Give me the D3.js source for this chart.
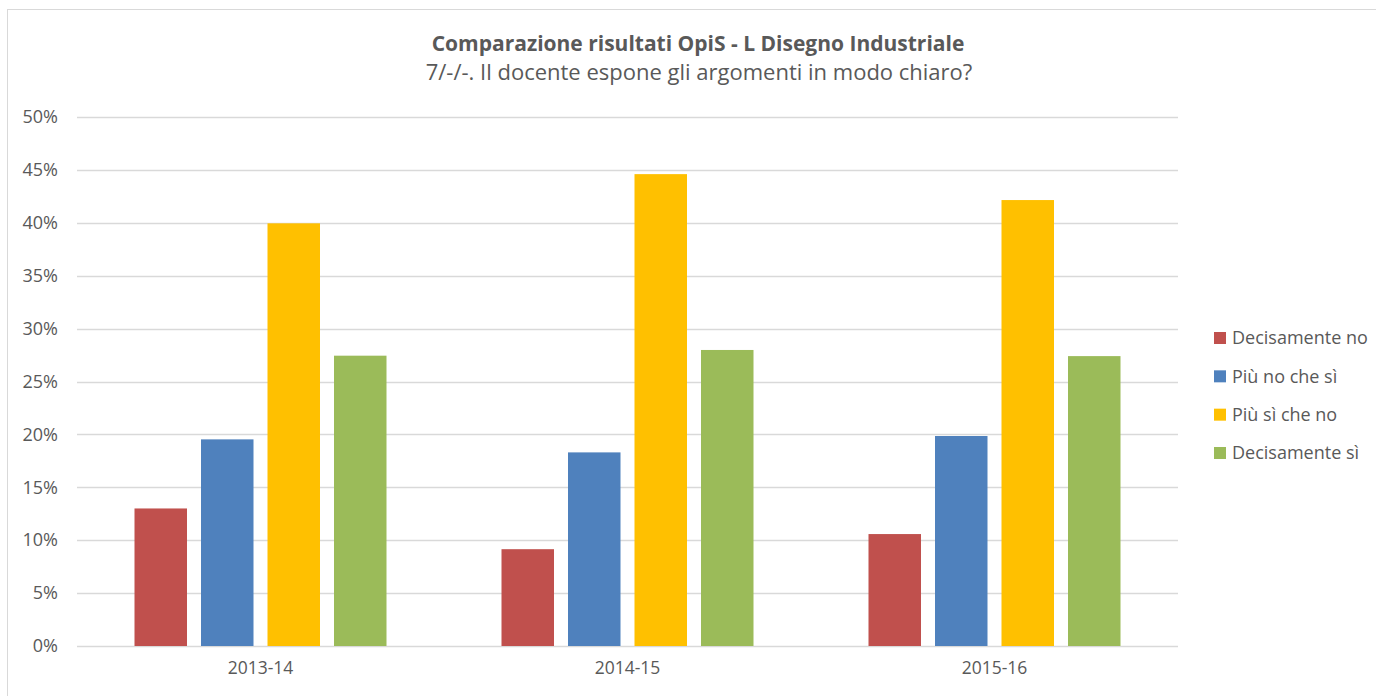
<!DOCTYPE html>
<html>
<head>
<meta charset="utf-8">
<script src="https://cdn.jsdelivr.net/npm/d3@7"></script>
<style>
  html, body { margin: 0; padding: 0; background: #ffffff; }
  svg { display: block; font-family: "Open Sans", "Noto Sans", sans-serif; }
</style>
</head>
<body>
<svg id="chart" width="1376" height="696"></svg>
<script>
// Academic years on the x axis
const categories = ["2013-14", "2014-15", "2015-16"];
// Answer options (one bar per option in each year)
const seriesNames = ["Decisamente no", "Più no che sì", "Più sì che no", "Decisamente sì"];
const seriesColors = ["#C0504D", "#4F81BD", "#FFC000", "#9BBB59"];
// Share of answers per option, one value per year
const decisamenteNo = [0.130, 0.0915, 0.1058];
const piuNoCheSi    = [0.1953, 0.1830, 0.1985];
const piuSiCheNo    = [0.3995, 0.4460, 0.4215];
const decisamenteSi = [0.2744, 0.2798, 0.2740];
// Value axis ticks
const yTicks = [0, 0.05, 0.10, 0.15, 0.20, 0.25, 0.30, 0.35, 0.40, 0.45, 0.50];

const titleText = "Comparazione risultati OpiS - L Disegno Industriale";
const subtitleText = "7/-/-. Il docente espone gli argomenti in modo chiaro?";

const seriesValues = [decisamenteNo, piuNoCheSi, piuSiCheNo, decisamenteSi];
const rows = [];
categories.forEach((c, ci) => {
  seriesNames.forEach((s, si) => rows.push({ cat: c, series: s, value: seriesValues[si][ci], color: seriesColors[si] }));
});

const svg = d3.select("#chart");
const textColor = "#595959";
const gridColor = "#D9D9D9";

// chart frame
svg.append("rect")
  .attr("x", 7.5).attr("y", 9.5)
  .attr("width", 1400).attr("height", 720)
  .attr("fill", "#ffffff")
  .attr("stroke", "#D9D9D9").attr("stroke-width", 1);

const plot = { left: 77, right: 1178, top: 117, bottom: 646 };

const x = d3.scaleBand().domain(categories).range([plot.left, plot.right]).padding(0);
const groupWidth = 252;
const xInner = d3.scaleBand().domain(seriesNames)
  .range([0, groupWidth]).paddingInner(14 / 66.5).paddingOuter(0);
const y = d3.scaleLinear().domain([0, 0.5]).range([plot.bottom, plot.top]);

// gridlines
svg.append("g")
  .selectAll("line")
  .data(yTicks)
  .join("line")
  .attr("x1", plot.left).attr("x2", plot.right)
  .attr("y1", d => Math.round(y(d)) + 0.5).attr("y2", d => Math.round(y(d)) + 0.5)
  .attr("stroke", gridColor).attr("stroke-width", 1.3);

// value axis labels
const yAxis = d3.axisLeft(y).tickValues(yTicks).tickFormat(d3.format(".0%")).tickSize(0).tickPadding(0);
const yG = svg.append("g").attr("transform", `translate(${58},0)`).call(yAxis);
yG.select(".domain").remove();
yG.selectAll("text")
  .attr("fill", textColor)
  .style("font-size", "18px")
  .style("font-family", "'Open Sans', sans-serif");

// bars
svg.append("g")
  .selectAll("rect")
  .data(rows)
  .join("rect")
  .attr("x", d => x(d.cat) + (x.bandwidth() - groupWidth) / 2 + xInner(d.series))
  .attr("y", d => y(d.value))
  .attr("width", xInner.bandwidth())
  .attr("height", d => y(0) - y(d.value))
  .attr("fill", d => d.color);

// category axis
const xAxis = d3.axisBottom(x).tickSize(0).tickPadding(0);
const xG = svg.append("g").attr("transform", `translate(0,${662})`).call(xAxis);
xG.select(".domain").remove();
xG.selectAll("text")
  .attr("fill", textColor)
  .attr("dy", "0.71em")
  .style("font-size", "17.5px")
  .style("font-family", "'Open Sans', sans-serif");

// titles
svg.append("text")
  .attr("x", 698).attr("y", 51)
  .attr("text-anchor", "middle")
  .attr("fill", textColor)
  .style("font-size", "21px").style("font-weight", "bold")
  .text(titleText);
svg.append("text")
  .attr("x", 699).attr("y", 80)
  .attr("text-anchor", "middle")
  .attr("fill", textColor)
  .style("font-size", "22px")
  .text(subtitleText);

// legend
const legend = svg.append("g").attr("transform", "translate(1214,0)");
const legendY = d3.scalePoint().domain(seriesNames).range([338, 453]);
const li = legend.selectAll("g").data(seriesNames).join("g")
  .attr("transform", d => `translate(0,${legendY(d)})`);
li.append("rect")
  .attr("x", 0).attr("y", -6).attr("width", 12).attr("height", 12)
  .attr("fill", (d, i) => seriesColors[i]);
li.append("text")
  .attr("x", 18).attr("y", 0).attr("dy", "0.35em")
  .attr("fill", textColor)
  .style("font-size", "18px")
  .text(d => d);
</script>
</body>
</html>
